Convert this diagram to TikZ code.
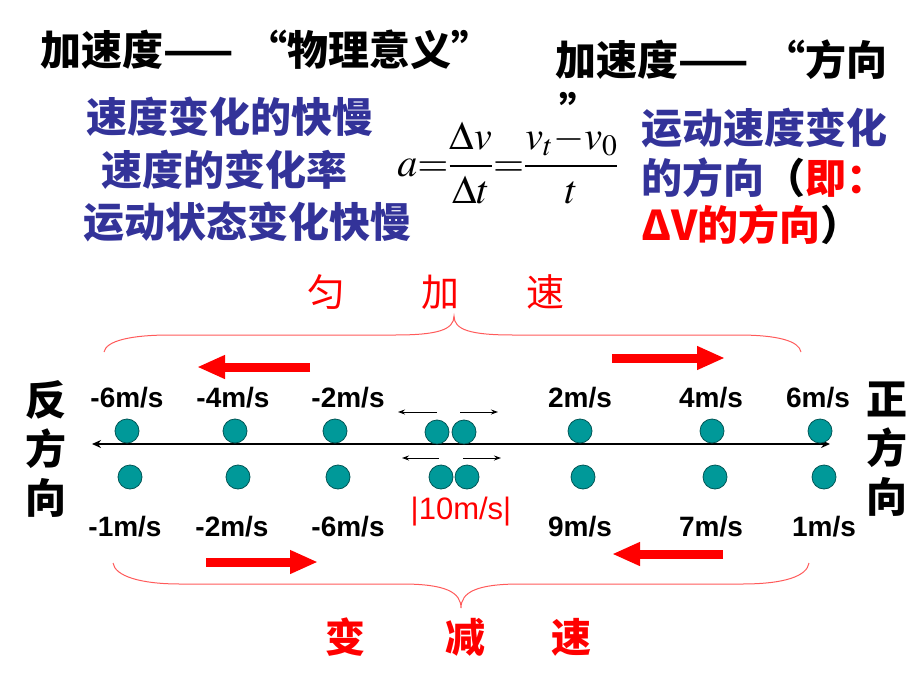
\documentclass[tikz,border=0pt]{standalone}
\usepackage{mathptmx}
\usepackage{fontspec}
\newfontfamily\cjk{Noto Sans CJK SC}
\newfontfamily\arial{Liberation Sans}
\usetikzlibrary{arrows.meta}
\definecolor{slateblue}{HTML}{333399}
\definecolor{ballteal}{HTML}{009999}
\definecolor{balledge}{HTML}{005555}
\definecolor{bracered}{HTML}{FF5A5A}

\begin{document}
\begin{tikzpicture}[x=1pt,y=-1pt,
    head/.style={font={\cjk\bfseries\fontsize{41}{41}\selectfont}, inner sep=0pt, anchor=west},
    meaning/.style={head, text=slateblue},
    side/.style={font={\cjk\bfseries\fontsize{41}{49}\selectfont}, inner sep=0pt, align=center},
    speed/.style={font={\arial\bfseries\fontsize{28}{28}\selectfont}, inner sep=0pt},
    ball/.style={circle, draw=balledge, fill=ballteal, line width=0.8pt, minimum size=24pt, inner sep=0pt},
    fatarrow/.style={red, line width=9pt, -{Triangle[length=28pt,width=22pt]}},
    thinarrow/.style={line width=0.9pt, -{Stealth[length=7pt,width=5pt]}},
    brace/.style={draw=bracered, line width=1pt}]
\useasboundingbox (0,0) rectangle (920,690);
% headings
\node[head] (headA) at (40,50) {加速度——\hspace{13pt}“物理意义”};
\node[head] (headB) at (555,60) {加速度——\hspace{16pt}“方向};
\node[head] (headBq) at (559,110) {”};
\node[meaning] (meanA) at (86,117) {速度变化的快慢};
\node[meaning] (meanB) at (101,170) {速度的变化率};
\node[meaning] (meanC) at (83,222) {运动状态变化快慢};
\node (formula) at (508,163) {\fontsize{40}{40}\selectfont $\displaystyle a{=}\frac{\Delta v}{\Delta t}{=}\frac{v_t{-}v_0}{t}$};
\node[meaning] (dirA) at (641,128) {运动速度变化};
\node[meaning] (dirB) at (641,178) {的方向{\color{black}（}{\color{red}即：}};
\node[head, text=red] (dirC) at (641,225) {ΔV的方向{\color{black}）}};
% braces and labels
\node[font={\cjk\fontsize{38}{38}\selectfont}, text=red, inner sep=0pt] (accel) at (436,292) {匀\hspace{76pt}加\hspace{68pt}速};
\draw[brace] (104,352) .. controls (106,341) and (130,335) .. (170,335) -- (395,335)
    .. controls (437,335) and (454,330) .. (454,316) .. controls (454,330) and (471,335) .. (513,335)
    -- (738,335) .. controls (778,335) and (799,341) .. (801,352);
\draw[brace] (113,563) .. controls (115,576) and (140,584) .. (180,584) -- (402,584)
    .. controls (445,584) and (461,592) .. (461,608) .. controls (461,592) and (477,584) .. (520,584)
    -- (742,584) .. controls (785,584) and (807,576) .. (809,563);
\node[font={\cjk\bfseries\fontsize{40}{40}\selectfont}, text=red, inner sep=0pt] (decel) at (458,637) {变\hspace{80pt}减\hspace{66pt}速};
\draw[fatarrow] (310,367) -- (197,367);
\draw[fatarrow] (612,358) -- (725,358);
\draw[fatarrow] (206,562) -- (318,562);
\draw[fatarrow] (723,554) -- (612,554);
% axis
\node[side] (neg) at (46,449) {反\\方\\向};
\node[side] (pos) at (887,449) {正\\方\\向};
\coordinate (axl) at (92,444);
\coordinate (axr) at (830,444);
\draw[line width=2.5pt, {Stealth[length=9pt,width=8pt]}-{Stealth[length=9pt,width=8pt]}] (axl) -- (axr);
% upper row
\node[speed] (u1) at (127,398) {-6m/s};
\node[speed] (u2) at (233,398) {-4m/s};
\node[speed] (u3) at (348,398) {-2m/s};
\node[speed] (u4) at (580,398) {2m/s};
\node[speed] (u5) at (711,398) {4m/s};
\node[speed] (u6) at (818,398) {6m/s};
\node[ball] (ub1) at (127,431) {};
\node[ball] (ub2) at (235,431) {};
\node[ball] (ub3) at (335,431) {};
\node[ball] (ub4) at (437,432) {};
\node[ball] (ub5) at (464,432) {};
\node[ball] (ub6) at (580,431) {};
\node[ball] (ub7) at (712,431) {};
\node[ball] (ub8) at (820,431) {};
\draw[thinarrow] (437,412) -- (398,412);
\draw[thinarrow] (460,412) -- (498,412);
% lower row
\node[ball] (lb1) at (130,477) {};
\node[ball] (lb2) at (238,477) {};
\node[ball] (lb3) at (338,477) {};
\node[ball] (lb4) at (441,477) {};
\node[ball] (lb5) at (467,477) {};
\node[ball] (lb6) at (583,477) {};
\node[ball] (lb7) at (715,477) {};
\node[ball] (lb8) at (824,477) {};
\draw[thinarrow] (439,458) -- (402,458);
\draw[thinarrow] (463,458) -- (501,458);
\node[font={\arial\fontsize{31}{31}\selectfont}, text=red, inner sep=0pt] (gap) at (461,512) {|10m/s|};
\node[speed] (d1) at (125,527) {-1m/s};
\node[speed] (d2) at (232,527) {-2m/s};
\node[speed] (d3) at (348,527) {-6m/s};
\node[speed] (d4) at (580,527) {9m/s};
\node[speed] (d5) at (711,527) {7m/s};
\node[speed] (d6) at (824,527) {1m/s};
\end{tikzpicture}
\end{document}
